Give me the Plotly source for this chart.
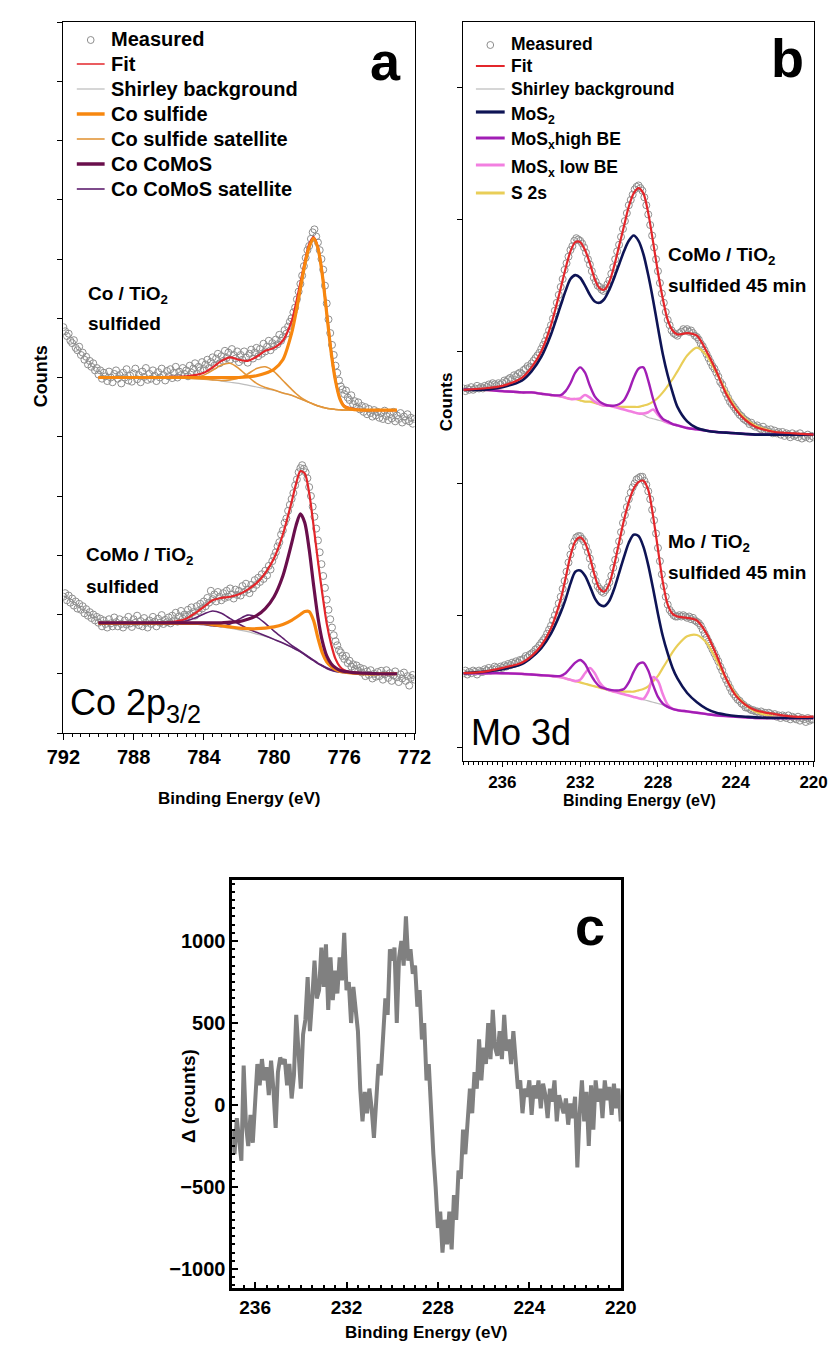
import numpy as np
import plotly.graph_objects as go

W, H = 837, 1347
FONT = "Liberation Sans, Arial, sans-serif"

# ---------------- Panel a : Co 2p3/2 ----------------
A_MEAS_START, A_MEAS_STEP = 792.0, -0.1
A_TOP_MEAS = [6.85, 6.78, 6.70, 6.74, 6.62, 6.58, 6.63, 6.50, 6.46, 6.52,
              6.38, 6.42, 6.30, 6.35, 6.22, 6.28, 6.18, 6.24, 6.12, 6.16,
              6.05, 6.12, 5.98, 6.08, 6.02, 5.94, 6.10, 6.00, 5.92, 6.06,
              6.12, 5.98, 6.04, 5.90, 6.08, 6.00, 6.14, 5.95, 6.03, 5.93,
              6.07, 6.15, 5.97, 6.04, 5.92, 6.10, 6.01, 6.16, 5.96, 6.06,
              5.98, 6.12, 6.03, 5.94, 6.09, 6.00, 6.15, 6.04, 5.95, 6.11,
              6.02, 6.14, 5.99, 6.08, 6.18, 6.00, 6.10, 6.04, 6.16, 6.06,
              6.12, 6.02, 6.20, 6.08, 6.15, 6.24, 6.06, 6.18, 6.12, 6.26,
              6.14, 6.22, 6.30, 6.16, 6.26, 6.34, 6.20, 6.32, 6.40, 6.24,
              6.36, 6.28, 6.45, 6.33, 6.42, 6.30, 6.48, 6.38, 6.32, 6.44,
              6.26, 6.38, 6.30, 6.44, 6.34, 6.25, 6.40, 6.47, 6.32, 6.42,
              6.50, 6.36, 6.48, 6.40, 6.57, 6.44, 6.52, 6.62, 6.46, 6.58,
              6.52, 6.64, 6.56, 6.72, 6.62, 6.68, 6.80, 6.74, 6.86, 6.94,
              7.00, 7.10, 7.18, 7.32, 7.45, 7.58, 7.72, 7.88, 8.02, 8.15,
              8.22, 8.34, 8.45, 8.50, 8.38, 8.28, 8.15, 8.00, 7.82, 7.55,
              7.25, 6.98, 6.75, 6.55, 6.38, 6.20, 6.08, 5.95, 5.85, 5.80,
              5.72, 5.78, 5.66, 5.62, 5.70, 5.55, 5.60, 5.50, 5.58, 5.46,
              5.52, 5.42, 5.50, 5.38, 5.47, 5.40, 5.34, 5.45, 5.36, 5.42,
              5.32, 5.40, 5.30, 5.44, 5.35, 5.28, 5.38, 5.31, 5.42, 5.26,
              5.36, 5.30, 5.40, 5.24, 5.34, 5.28, 5.38, 5.26, 5.32, 5.22,
              5.30]
A_BOT_MEAS = [2.30, 2.36, 2.24, 2.32, 2.20, 2.27, 2.15, 2.22, 2.10, 2.18,
              2.08, 2.14, 2.02, 2.09, 1.98, 2.04, 1.94, 2.00, 1.90, 1.96,
              1.86, 1.93, 1.80, 1.90, 1.84, 1.78, 1.92, 1.85, 1.80, 1.95,
              1.87, 1.80, 1.92, 1.84, 1.78, 1.90, 1.83, 1.96, 1.85, 1.79,
              1.92, 1.86, 1.98, 1.82, 1.89, 1.80, 1.94, 1.86, 1.78, 1.90,
              1.84, 1.96, 1.88, 1.80, 1.93, 1.86, 1.99, 1.84, 1.91, 1.87,
              1.95, 1.85, 1.98, 1.90, 2.03, 1.88, 1.97, 2.06, 1.93, 2.00,
              1.96, 2.08, 2.00, 2.12, 2.04, 1.98, 2.14, 2.06, 2.18, 2.10,
              2.22, 2.14, 2.28, 2.20, 2.40, 2.26, 2.34, 2.22, 2.38, 2.30,
              2.24, 2.36, 2.28, 2.40, 2.30, 2.44, 2.34, 2.27, 2.42, 2.33,
              2.40, 2.32, 2.48, 2.38, 2.52, 2.42, 2.36, 2.50, 2.44, 2.58,
              2.50, 2.62, 2.55, 2.68, 2.60, 2.74, 2.66, 2.82, 2.76, 2.90,
              2.98, 3.05, 3.15, 3.22, 3.35, 3.42, 3.55, 3.62, 3.75, 3.85,
              3.95, 4.05, 4.18, 4.28, 4.40, 4.47, 4.52, 4.46, 4.40, 4.30,
              4.15, 4.00, 3.82, 3.65, 3.45, 3.25, 3.05, 2.85, 2.65, 2.45,
              2.25, 2.08, 1.92, 1.78, 1.65, 1.55, 1.48, 1.40, 1.36, 1.30,
              1.25, 1.30, 1.18, 1.22, 1.12, 1.16, 1.08, 1.14, 1.05, 1.10,
              1.02, 1.08, 0.96, 1.04, 0.98, 1.06, 0.92, 1.00, 0.95, 1.03,
              0.96, 1.05, 0.90, 0.99, 1.06, 0.93, 1.01, 0.88, 0.97, 1.04,
              0.94, 0.86, 0.99, 0.92, 1.02, 0.88, 0.96, 0.80, 0.93, 0.98,
              0.90]

A_CURVE_E = [790, 789, 788, 787, 786, 785.5, 785, 784.5, 784, 783.5, 783, 782.5,
             782, 781.5, 781, 780.5, 780, 779.5, 779, 778.75, 778.5, 778.25, 778,
             777.75, 777.5, 777.25, 777, 776.75, 776.5, 776.25, 776, 775.5, 775, 774, 773]
A_TOP_SHIRLEY = [6.0, 6.0, 6.0, 6.0, 6.0, 6.0, 5.99, 5.98, 5.97, 5.96, 5.94, 5.92,
                 5.9, 5.87, 5.84, 5.81, 5.78, 5.74, 5.7, 5.67, 5.64, 5.61, 5.58,
                 5.55, 5.52, 5.5, 5.48, 5.47, 5.46, 5.455, 5.45, 5.45, 5.45, 5.45, 5.45]
A_TOP_FIT = [6.0, 6.0, 6.0, 6.0, 6.01, 6.01, 6.02, 6.04, 6.08, 6.17, 6.28, 6.34,
             6.3, 6.28, 6.35, 6.45, 6.5, 6.62, 6.95, 7.25, 7.6, 7.95, 8.25,
             8.37, 8.2, 7.75, 7.1, 6.45, 5.95, 5.65, 5.52, 5.47, 5.45, 5.45, 5.45]
A_TOP_COS = [6.0, 6.0, 6.0, 6.0, 6.0, 6.0, 6.0, 6.0, 6.0, 6.0, 6.0, 6.0,
             6.0, 6.01, 6.03, 6.07, 6.14, 6.3, 6.75, 7.1, 7.5, 7.9, 8.2,
             8.35, 8.18, 7.73, 7.08, 6.43, 5.94, 5.64, 5.51, 5.46, 5.45, 5.45, 5.45]
A_TOP_COS_SAT1 = [6.0, 6.0, 6.0, 6.0, 6.0, 6.0, 5.99, 6.0, 6.04, 6.12, 6.21, 6.24,
                  6.15, 6.02, 5.9, 5.83, 5.79, 5.74, 5.7, 5.67, 5.64, 5.61, 5.58,
                  5.55, 5.52, 5.5, 5.48, 5.47, 5.46, 5.455, 5.45, 5.45, 5.45, 5.45, 5.45]
A_TOP_COS_SAT2 = [6.0, 6.0, 6.0, 6.0, 6.0, 6.0, 5.99, 5.98, 5.97, 5.96, 5.95, 5.96,
                  5.99, 6.06, 6.15, 6.18, 6.1, 5.95, 5.8, 5.73, 5.67, 5.62, 5.58,
                  5.55, 5.52, 5.5, 5.48, 5.47, 5.46, 5.455, 5.45, 5.45, 5.45, 5.45, 5.45]
A_BOT_SHIRLEY = [1.86, 1.86, 1.86, 1.86, 1.86, 1.85, 1.85, 1.84, 1.83, 1.81, 1.79, 1.77,
                 1.74, 1.71, 1.67, 1.63, 1.58, 1.52, 1.45, 1.41, 1.37, 1.32, 1.27,
                 1.22, 1.17, 1.13, 1.09, 1.06, 1.04, 1.03, 1.02, 1.01, 1.0, 1.0, 1.0]
A_BOT_FIT = [1.86, 1.86, 1.86, 1.86, 1.87, 1.89, 1.93, 2.02, 2.13, 2.24, 2.28, 2.3,
             2.34, 2.42, 2.53, 2.7, 2.95, 3.35, 3.9, 4.2, 4.42, 4.38, 4.05,
             3.5, 2.9, 2.35, 1.85, 1.5, 1.25, 1.12, 1.06, 1.02, 1.01, 1.0, 1.0]
A_BOT_COMOS = [1.86, 1.86, 1.86, 1.86, 1.86, 1.86, 1.86, 1.86, 1.86, 1.86, 1.86, 1.87,
               1.88, 1.92, 1.98, 2.1, 2.3, 2.65, 3.2, 3.5, 3.7, 3.55, 3.1,
               2.5, 1.95, 1.55, 1.3, 1.17, 1.1, 1.06, 1.04, 1.02, 1.01, 1.0, 1.0]
A_BOT_COS = [1.85, 1.85, 1.85, 1.85, 1.85, 1.85, 1.85, 1.85, 1.85, 1.83, 1.81, 1.79,
             1.77, 1.76, 1.76, 1.77, 1.79, 1.83, 1.9, 1.95, 2.0, 2.05, 2.05,
             1.9, 1.6, 1.35, 1.2, 1.12, 1.07, 1.04, 1.03, 1.01, 1.0, 1.0, 1.0]
A_BOT_COMOS_SAT1 = [1.86, 1.86, 1.86, 1.86, 1.86, 1.87, 1.89, 1.94, 2.01, 2.06, 2.02, 1.93,
                    1.84, 1.76, 1.7, 1.64, 1.58, 1.52, 1.45, 1.41, 1.37, 1.32, 1.27,
                    1.22, 1.17, 1.13, 1.09, 1.06, 1.04, 1.03, 1.02, 1.01, 1.0, 1.0, 1.0]
A_BOT_COMOS_SAT2 = [1.86, 1.86, 1.86, 1.86, 1.86, 1.85, 1.85, 1.84, 1.83, 1.81, 1.8, 1.84,
                    1.92, 1.99, 1.96, 1.85, 1.72, 1.6, 1.48, 1.43, 1.38, 1.33, 1.28,
                    1.23, 1.18, 1.14, 1.1, 1.07, 1.05, 1.03, 1.02, 1.01, 1.0, 1.0, 1.0]

# ---------------- Panel b : Mo 3d ----------------
B_MEAS_START, B_MEAS_STEP = 238.0, -0.1
B_TOP_MEAS = [2.72, 2.70, 2.72, 2.71, 2.73, 2.71, 2.72, 2.74, 2.72, 2.73,
              2.72, 2.74, 2.73, 2.75, 2.74, 2.76, 2.75, 2.74, 2.76, 2.75,
              2.76, 2.78, 2.77, 2.79, 2.80, 2.79, 2.82, 2.81, 2.83, 2.84,
              2.83, 2.86, 2.87, 2.89, 2.88, 2.91, 2.93, 2.95, 2.97, 2.99,
              3.02, 3.05, 3.08, 3.12, 3.16, 3.20, 3.25, 3.31, 3.37, 3.43,
              3.49, 3.55, 3.62, 3.67, 3.72, 3.77, 3.80, 3.84, 3.86, 3.85,
              3.84, 3.82, 3.79, 3.75, 3.70, 3.66, 3.61, 3.56, 3.53, 3.50,
              3.49, 3.47, 3.46, 3.48, 3.51, 3.54, 3.59, 3.64, 3.70, 3.76,
              3.81, 3.87, 3.93, 3.99, 4.05, 4.11, 4.15, 4.19, 4.23, 4.25,
              4.26, 4.24, 4.22, 4.17, 4.11, 4.04, 3.96, 3.88, 3.79, 3.70,
              3.61, 3.52, 3.44, 3.37, 3.30, 3.24, 3.20, 3.16, 3.14, 3.13,
              3.12, 3.14, 3.15, 3.17, 3.16, 3.17, 3.15, 3.16, 3.14, 3.12,
              3.11, 3.09, 3.06, 3.04, 3.01, 2.98, 2.95, 2.92, 2.89, 2.87,
              2.84, 2.81, 2.77, 2.75, 2.71, 2.68, 2.65, 2.62, 2.60, 2.58,
              2.56, 2.54, 2.52, 2.51, 2.49, 2.48, 2.47, 2.45, 2.46, 2.44,
              2.43, 2.44, 2.42, 2.41, 2.43, 2.40, 2.41, 2.39, 2.41, 2.38,
              2.40, 2.38, 2.39, 2.37, 2.39, 2.36, 2.38, 2.37, 2.35, 2.38,
              2.36, 2.37, 2.35, 2.38, 2.34, 2.36, 2.35, 2.37, 2.34, 2.36,
              2.35]
B_BOT_MEAS = [0.56, 0.58, 0.55, 0.57, 0.56, 0.58, 0.57, 0.55, 0.58, 0.57,
              0.57, 0.59, 0.58, 0.60, 0.58, 0.59, 0.61, 0.60, 0.59, 0.61,
              0.60, 0.62, 0.61, 0.63, 0.62, 0.64, 0.63, 0.65, 0.64, 0.66,
              0.66, 0.67, 0.69, 0.68, 0.70, 0.71, 0.72, 0.74, 0.75, 0.77,
              0.79, 0.81, 0.83, 0.86, 0.89, 0.92, 0.96, 1.00, 1.04, 1.09,
              1.14, 1.20, 1.26, 1.33, 1.40, 1.46, 1.52, 1.56, 1.59, 1.60,
              1.60, 1.58, 1.56, 1.52, 1.48, 1.43, 1.37, 1.31, 1.26, 1.22,
              1.20, 1.18, 1.17, 1.19, 1.21, 1.25, 1.30, 1.36, 1.42, 1.49,
              1.56, 1.63, 1.70, 1.76, 1.82, 1.88, 1.93, 1.97, 2.00, 2.03,
              2.04, 2.05, 2.05, 2.02, 1.99, 1.94, 1.88, 1.80, 1.72, 1.62,
              1.51, 1.41, 1.31, 1.22, 1.14, 1.08, 1.04, 1.02, 1.00, 0.99,
              0.99, 1.00, 0.99, 1.00, 0.99, 0.98, 0.99, 0.97, 0.98, 0.96,
              0.95, 0.94, 0.92, 0.89, 0.86, 0.83, 0.80, 0.77, 0.74, 0.71,
              0.68, 0.65, 0.61, 0.58, 0.54, 0.51, 0.48, 0.45, 0.42, 0.40,
              0.38, 0.36, 0.35, 0.33, 0.32, 0.30, 0.30, 0.29, 0.28, 0.28,
              0.27, 0.27, 0.26, 0.27, 0.25, 0.26, 0.24, 0.26, 0.25, 0.24,
              0.25, 0.23, 0.24, 0.22, 0.24, 0.23, 0.22, 0.24, 0.21, 0.23,
              0.22, 0.21, 0.23, 0.20, 0.22, 0.21, 0.19, 0.22, 0.20, 0.21,
              0.21]

B_CURVE_E = [238, 237, 236, 235, 234.5, 234, 233.5, 233, 232.75, 232.5, 232.25, 232,
             231.75, 231.5, 231.25, 231, 230.75, 230.5, 230.25, 230, 229.75, 229.5,
             229.25, 229, 228.75, 228.5, 228.25, 228, 227.75, 227.5, 227.25, 227,
             226.5, 226, 225.5, 225, 224.5, 224, 223.5, 223, 222, 221, 220]
B_TOP_SHIRLEY = [2.71, 2.71, 2.70, 2.69, 2.69, 2.68, 2.67, 2.66, 2.65, 2.64, 2.64, 2.63,
                 2.62, 2.62, 2.61, 2.60, 2.59, 2.59, 2.58, 2.57, 2.56, 2.55,
                 2.54, 2.53, 2.52, 2.50, 2.49, 2.48, 2.47, 2.46, 2.45, 2.44,
                 2.42, 2.41, 2.40, 2.39, 2.385, 2.38, 2.375, 2.37, 2.37, 2.37, 2.37]
B_TOP_FIT = [2.71, 2.72, 2.74, 2.80, 2.88, 3.00, 3.20, 3.48, 3.63, 3.76, 3.83, 3.83,
             3.77, 3.67, 3.55, 3.48, 3.47, 3.53, 3.65, 3.80, 3.95, 4.10,
             4.20, 4.24, 4.20, 4.05, 3.83, 3.60, 3.40, 3.24, 3.16, 3.13,
             3.14, 3.12, 3.00, 2.85, 2.68, 2.56, 2.48, 2.43, 2.39, 2.38, 2.37]
B_TOP_MOS2 = [2.71, 2.71, 2.73, 2.78, 2.85, 2.96, 3.13, 3.35, 3.46, 3.55, 3.58, 3.56,
              3.50, 3.43, 3.38, 3.37, 3.40, 3.47, 3.56, 3.66, 3.76, 3.84,
              3.88, 3.84, 3.74, 3.58, 3.39, 3.18, 2.98, 2.82, 2.69, 2.58,
              2.47, 2.42, 2.40, 2.39, 2.385, 2.38, 2.375, 2.37, 2.37, 2.37, 2.37]
B_TOP_MOSX_HIGH = [2.71, 2.71, 2.70, 2.69, 2.69, 2.68, 2.67, 2.67, 2.70, 2.76, 2.84, 2.88,
                   2.84, 2.74, 2.66, 2.62, 2.60, 2.59, 2.59, 2.60, 2.63, 2.70,
                   2.80, 2.87, 2.88, 2.78, 2.64, 2.54, 2.49, 2.47, 2.45, 2.44,
                   2.42, 2.41, 2.40, 2.39, 2.385, 2.38, 2.375, 2.37, 2.37, 2.37, 2.37]
B_TOP_MOSX_LOW = [2.71, 2.71, 2.70, 2.69, 2.69, 2.68, 2.67, 2.66, 2.65, 2.64, 2.64, 2.645,
                  2.67, 2.65, 2.62, 2.60, 2.59, 2.59, 2.58, 2.57, 2.56, 2.55,
                  2.54, 2.53, 2.53, 2.54, 2.56, 2.52, 2.48, 2.46, 2.45, 2.44,
                  2.42, 2.41, 2.40, 2.39, 2.385, 2.38, 2.375, 2.37, 2.37, 2.37, 2.37]
B_TOP_S2S = [2.71, 2.71, 2.70, 2.69, 2.69, 2.68, 2.67, 2.66, 2.65, 2.64, 2.64, 2.63,
             2.62, 2.62, 2.61, 2.60, 2.59, 2.59, 2.58, 2.58, 2.58, 2.58,
             2.58, 2.58, 2.59, 2.60, 2.62, 2.65, 2.69, 2.74, 2.79, 2.85,
             2.97, 3.03, 2.97, 2.84, 2.70, 2.57, 2.49, 2.44, 2.39, 2.37, 2.37]
B_BOT_SHIRLEY = [0.56, 0.56, 0.56, 0.555, 0.55, 0.545, 0.54, 0.53, 0.52, 0.51, 0.50, 0.49,
                 0.48, 0.47, 0.46, 0.45, 0.44, 0.43, 0.42, 0.41, 0.40, 0.39,
                 0.38, 0.37, 0.36, 0.35, 0.34, 0.33, 0.32, 0.30, 0.29, 0.28,
                 0.27, 0.26, 0.25, 0.24, 0.235, 0.23, 0.225, 0.22, 0.22, 0.22, 0.22]
B_BOT_FIT = [0.56, 0.57, 0.60, 0.64, 0.69, 0.77, 0.90, 1.12, 1.28, 1.45, 1.56, 1.59,
             1.55, 1.44, 1.30, 1.20, 1.18, 1.24, 1.38, 1.55, 1.72, 1.86,
             1.96, 2.01, 2.02, 1.95, 1.75, 1.50, 1.25, 1.08, 1.01, 0.99,
             0.98, 0.96, 0.86, 0.70, 0.52, 0.39, 0.32, 0.28, 0.25, 0.23, 0.23]
B_BOT_MOS2 = [0.56, 0.57, 0.59, 0.63, 0.68, 0.75, 0.86, 1.02, 1.12, 1.24, 1.33, 1.34,
              1.30, 1.22, 1.13, 1.08, 1.07, 1.11, 1.20, 1.32, 1.44, 1.55,
              1.61, 1.60, 1.52, 1.38, 1.20, 1.01, 0.84, 0.71, 0.60, 0.52,
              0.41, 0.34, 0.29, 0.26, 0.245, 0.235, 0.23, 0.225, 0.22, 0.22, 0.22]
B_BOT_MOSX_HIGH = [0.56, 0.56, 0.56, 0.555, 0.55, 0.545, 0.54, 0.54, 0.56, 0.60, 0.64, 0.66,
                   0.63, 0.56, 0.50, 0.46, 0.445, 0.435, 0.43, 0.43, 0.44, 0.49,
                   0.57, 0.63, 0.64, 0.58, 0.47, 0.38, 0.33, 0.305, 0.29, 0.28,
                   0.27, 0.26, 0.25, 0.24, 0.235, 0.23, 0.225, 0.22, 0.22, 0.22, 0.22]
B_BOT_MOSX_LOW = [0.56, 0.56, 0.56, 0.555, 0.55, 0.545, 0.54, 0.53, 0.52, 0.51, 0.50, 0.51,
                  0.56, 0.60, 0.56, 0.49, 0.45, 0.43, 0.42, 0.41, 0.40, 0.39,
                  0.38, 0.37, 0.365, 0.42, 0.53, 0.50, 0.40, 0.32, 0.29, 0.28,
                  0.27, 0.26, 0.25, 0.24, 0.235, 0.23, 0.225, 0.22, 0.22, 0.22, 0.22]
B_BOT_S2S = [0.56, 0.56, 0.56, 0.555, 0.55, 0.545, 0.54, 0.53, 0.52, 0.51, 0.50, 0.49,
             0.48, 0.47, 0.46, 0.45, 0.44, 0.43, 0.42, 0.42, 0.42, 0.42,
             0.42, 0.43, 0.44, 0.46, 0.50, 0.54, 0.60, 0.66, 0.72, 0.77,
             0.84, 0.85, 0.79, 0.66, 0.52, 0.40, 0.32, 0.27, 0.23, 0.22, 0.22]

# ---------------- Panel c : difference ----------------
C_START, C_STEP = 237.0, -0.1
C_DELTA = [-150, -300, -80, -200, -340, 240, -120, -250, -60, -230,
           0, 250, 120, 280, 150, 230, 60, 270, 100, -140,
           200, 290, 250, 280, 120, 250, 40, 180, 550, 300,
           100, 430, 520, 780, 450, 650, 880, 650, 700, 960,
           720, 980, 580, 900, 640, 820, 680, 900, 760, 1050,
           700, 750, 500, 720, 600, 450, 100, -100, 80, -50,
           100, -20, -200, 50, 250, 180, 400, 650, 550, 950,
           880, 960, 500, 900, 1000, 850, 1150, 880, 950, 800,
           850, 600, 700, 400, 500, 150, 250, -100, -300, -500,
           -750, -650, -900, -700, -850, -650, -880, -550, -700, -400,
           -450, -150, -300, -100, 100, -50, 200, 100, 400, 150,
           350, 250, 500, 280, 580, 350, 300, 450, 280, 550,
           330, 400, 250, 450, 300, 100, 150, -50, 100, 50,
           150, -60, 120, 40, 150, -20, 130, 60, -80, 100,
           20, 150, -100, 60, 0, -50, 40, -120, 10, -80,
           50, -380, -50, 150, -100, 80, -250, 120, -150, 150,
           20, 100, -80, 150, 30, 110, -60, 130, -20, 100,
           -100]

# legend entries (name, colour, line width)
A_LEGEND = [("Measured", None, 0), ("Fit", "#E3262B", 1.5), ("Shirley background", "#C8C8C8", 1.5),
            ("Co sulfide", "#F7870F", 3.5), ("Co sulfide satellite", "#E3963A", 1.6),
            ("Co CoMoS", "#6A0F4C", 3.5), ("Co CoMoS satellite", "#5E1F6E", 1.6)]
B_LEGEND = [("Measured", None, 0), ("Fit", "#E3262B", 2.0), ("Shirley background", "#C8C8C8", 1.5),
            ("MoS<sub>2</sub>", "#0E1455", 3.2), ("MoS<sub>x</sub>high BE", "#A11EB5", 3.0),
            ("MoS<sub>x</sub> low BE", "#F27FE0", 3.0), ("S 2s", "#E9CE58", 3.0)]


def grid(start, step, n):
    return np.round(start + step * np.arange(n), 2)


def px(x):
    return x / W


def py(y):
    return 1 - y / H


fig = go.Figure()

MEAS_MARKER = dict(symbol="circle-open", size=7, color="#8e8e8e", line=dict(width=1))
C_FIT = "#E3262B"
C_SHIR = "#BDBDBD"
C_COS = "#F7870F"
C_COS_SAT = "#E3963A"
C_COMOS = "#6A0F4C"
C_COMOS_SAT = "#5E1F6E"
C_MOS2 = "#0E1455"
C_MOSXH = "#A11EB5"
C_MOSXL = "#F27FE0"
C_S2S = "#E9CE58"


def line_tr(x, y, name, color, width, xa, ya):
    return go.Scatter(x=x, y=y, mode="lines", name=name,
                      line=dict(color=color, width=width, shape="spline", smoothing=0.8),
                      xaxis=xa, yaxis=ya, showlegend=False, hoverinfo="skip")


# ---- panel a traces
xa_meas = grid(A_MEAS_START, A_MEAS_STEP, len(A_TOP_MEAS))
for meas in [A_TOP_MEAS, A_BOT_MEAS]:
    fig.add_trace(go.Scatter(x=xa_meas, y=meas, mode="markers", name="Measured",
                             marker=MEAS_MARKER, xaxis="x", yaxis="y", showlegend=False))
for shir in [A_TOP_SHIRLEY, A_BOT_SHIRLEY]:
    fig.add_trace(line_tr(A_CURVE_E, shir, "Shirley background", C_SHIR, 1.2, "x", "y"))
for fit in [A_TOP_FIT, A_BOT_FIT]:
    fig.add_trace(line_tr(A_CURVE_E, fit, "Fit", C_FIT, 2.2, "x", "y"))
fig.add_trace(line_tr(A_CURVE_E, A_TOP_COS_SAT1, "Co sulfide satellite", C_COS_SAT, 1.6, "x", "y"))
fig.add_trace(line_tr(A_CURVE_E, A_TOP_COS_SAT2, "Co sulfide satellite", C_COS_SAT, 1.6, "x", "y"))
fig.add_trace(line_tr(A_CURVE_E, A_BOT_COMOS_SAT1, "Co CoMoS satellite", C_COMOS_SAT, 1.6, "x", "y"))
fig.add_trace(line_tr(A_CURVE_E, A_BOT_COMOS_SAT2, "Co CoMoS satellite", C_COMOS_SAT, 1.6, "x", "y"))
fig.add_trace(line_tr(A_CURVE_E, A_TOP_COS, "Co sulfide", C_COS, 3.2, "x", "y"))
fig.add_trace(line_tr(A_CURVE_E, A_BOT_COS, "Co sulfide", C_COS, 3.2, "x", "y"))
fig.add_trace(line_tr(A_CURVE_E, A_BOT_COMOS, "Co CoMoS", C_COMOS, 3.2, "x", "y"))

# ---- panel b traces
xb_meas = grid(B_MEAS_START, B_MEAS_STEP, len(B_TOP_MEAS))
for meas in [B_TOP_MEAS, B_BOT_MEAS]:
    fig.add_trace(go.Scatter(x=xb_meas, y=meas, mode="markers", name="Measured",
                             marker=MEAS_MARKER, xaxis="x2", yaxis="y2", showlegend=False))
for shir, mos2, mh, ml, s2s, fit in [
        (B_TOP_SHIRLEY, B_TOP_MOS2, B_TOP_MOSX_HIGH, B_TOP_MOSX_LOW, B_TOP_S2S, B_TOP_FIT),
        (B_BOT_SHIRLEY, B_BOT_MOS2, B_BOT_MOSX_HIGH, B_BOT_MOSX_LOW, B_BOT_S2S, B_BOT_FIT)]:
    fig.add_trace(line_tr(B_CURVE_E, shir, "Shirley background", C_SHIR, 1.2, "x2", "y2"))
    fig.add_trace(line_tr(B_CURVE_E, s2s, "S 2s", C_S2S, 2.2, "x2", "y2"))
    fig.add_trace(line_tr(B_CURVE_E, ml, "MoSx low BE", C_MOSXL, 2.6, "x2", "y2"))
    fig.add_trace(line_tr(B_CURVE_E, mh, "MoSx high BE", C_MOSXH, 2.4, "x2", "y2"))
    fig.add_trace(line_tr(B_CURVE_E, mos2, "MoS2", C_MOS2, 2.6, "x2", "y2"))
    fig.add_trace(line_tr(B_CURVE_E, fit, "Fit", C_FIT, 2.2, "x2", "y2"))

# ---- panel c trace
xc = grid(C_START, C_STEP, len(C_DELTA))
fig.add_trace(go.Scatter(x=xc, y=C_DELTA, mode="lines", line=dict(color="#808080", width=4),
                         xaxis="x3", yaxis="y3", showlegend=False, hoverinfo="skip"))


def ax(**kw):
    base = dict(showgrid=False, zeroline=False, showline=True, linecolor="black",
                mirror=True, tickcolor="black", color="black")
    base.update(kw)
    return base


def tickf(s):
    return dict(family=FONT, size=s, color="black", weight="bold")


C_BOTTOM_PX = 1280
fig.update_layout(
    width=W, height=H, margin=dict(l=0, r=0, t=0, b=0),
    paper_bgcolor="white", plot_bgcolor="white", showlegend=False,
    xaxis=ax(domain=[px(40), px(406)], range=[792, 772], anchor="y",
             tickmode="linear", tick0=772, dtick=4, ticks="outside", ticklen=6, tickwidth=1.3,
             linewidth=1.3, tickfont=tickf(20),
             minor=dict(dtick=0.5, ticks="outside", ticklen=3, tickwidth=1, tickcolor="black")),
    yaxis=ax(domain=[py(725), py(14)], range=[0, 12], anchor="x",
             tickmode="linear", tick0=0, dtick=1, ticks="outside", ticklen=5, tickwidth=1.2,
             linewidth=1.3, showticklabels=False),
    xaxis2=ax(domain=[px(457), px(822)], range=[238, 220], anchor="y2",
              tickmode="linear", tick0=220, dtick=4, ticks="outside", ticklen=5, tickwidth=1.3,
              linewidth=1.3, tickfont=tickf(17),
              minor=dict(dtick=0.25, ticks="outside", ticklen=3, tickwidth=1, tickcolor="black")),
    yaxis2=ax(domain=[py(753), py(14)], range=[-0.106, 5.5], anchor="x2",
              tickmode="linear", tick0=0, dtick=1, ticks="outside", ticklen=5, tickwidth=1.2,
              linewidth=1.3, showticklabels=False),
    xaxis3=ax(domain=[px(216), px(621)], range=[237, 220], anchor="y3",
              tickmode="linear", tick0=220, dtick=4, ticks="inside", ticklen=6, tickwidth=2,
              linewidth=2.6, tickfont=tickf(19),
              minor=dict(dtick=0.5, ticks="inside", ticklen=3, tickwidth=1.5, tickcolor="black")),
    yaxis3=ax(domain=[py(C_BOTTOM_PX), py(872)],
              range=[-(C_BOTTOM_PX - 1097) * 500 / 82, 1372], anchor="x3",
              tickmode="linear", tick0=0, dtick=500, ticks="inside", ticklen=6, tickwidth=2,
              linewidth=2.6, tickfont=tickf(20),
              minor=dict(dtick=50, ticks="inside", ticklen=3, tickwidth=1.5, tickcolor="black")),
)

ann = []
shapes = []


def text(x, y, t, size, bold=True, xanchor="left", angle=0):
    ann.append(dict(x=px(x), y=py(y), xref="paper", yref="paper", text=t, showarrow=False,
                    xanchor=xanchor, yanchor="middle", textangle=angle,
                    font=dict(family=FONT, size=size, color="black",
                              weight="bold" if bold else "normal")))


def legend_box(entries, rows_y, x0, x1, xtext, size):
    for (name, color, width), y in zip(entries, rows_y):
        if color is None:
            cx, r = (x0 + x1) / 2, 3.5
            shapes.append(dict(type="circle", xref="paper", yref="paper",
                               x0=px(cx - r), x1=px(cx + r), y0=py(y + 1 + r), y1=py(y + 1 - r),
                               line=dict(color="#8e8e8e", width=1), fillcolor="white"))
        else:
            shapes.append(dict(type="line", xref="paper", yref="paper",
                               x0=px(x0), x1=px(x1), y0=py(y), y1=py(y),
                               line=dict(color=color, width=width)))
        dy = 3 if "<sub>" in name else 0
        text(xtext, y + dy, name, size)


legend_box(A_LEGEND, [31, 56, 81, 106, 131, 156, 181], 54, 83, 88, 20)
legend_box(B_LEGEND, [36, 58, 81, 104, 130, 157, 185], 470, 500, 504, 17.5)

# panel a
text(376, 53, "a", 54, xanchor="center")
text(64, 287, "Co / TiO<sub>2</sub>", 19)
text(64, 316, "sulfided", 19)
text(62, 548, "CoMo / TiO<sub>2</sub>", 19)
text(62, 578, "sulfided", 19)
text(45, 697, "Co 2p<sub>3/2</sub>", 36, bold=False)
text(17, 368, "Counts", 18, xanchor="center", angle=-90)
text(223, 790, "Binding Energy (eV)", 17, xanchor="center")
# panel b
text(795, 50, "b", 54, xanchor="center")
text(668, 248, "CoMo / TiO<sub>2</sub>", 19)
text(668, 278, "sulfided 45 min", 19)
text(668, 535, "Mo / TiO<sub>2</sub>", 19)
text(668, 564, "sulfided 45 min", 19)
text(463, 725, "Mo 3d", 36, bold=False)
text(439, 394, "Counts", 17, xanchor="center", angle=-90)
text(640, 792, "Binding Energy (eV)", 16, xanchor="center")
# panel c
text(589, 918, "c", 54, xanchor="center")
text(170, 1088, "Δ (counts)", 19, xanchor="center", angle=-90)
text(418, 1324, "Binding Energy (eV)", 17, xanchor="center")

fig.update_layout(annotations=ann, shapes=shapes)
fig.write_html("out.html")
